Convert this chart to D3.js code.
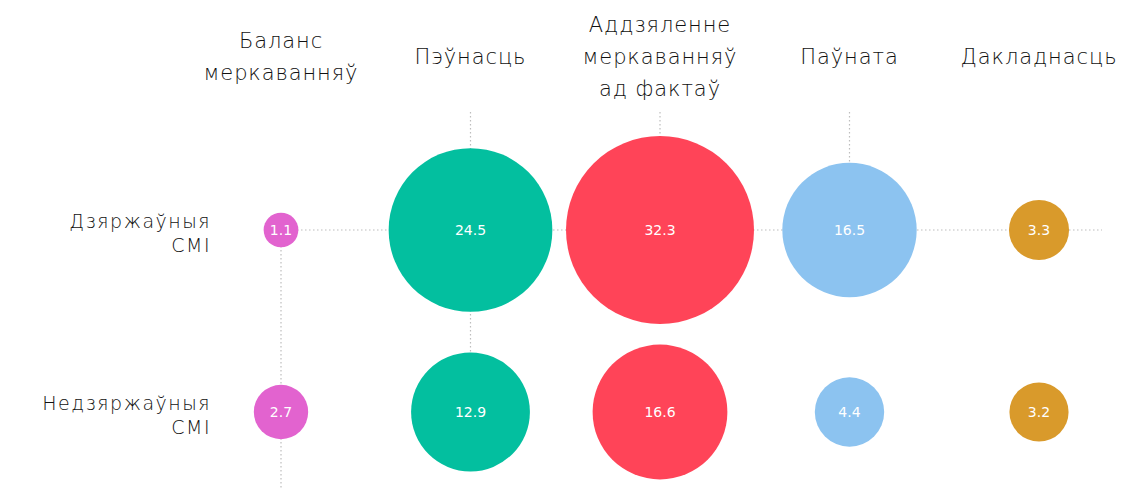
<!DOCTYPE html>
<html>
<head>
<meta charset="utf-8">
<script src="https://cdn.jsdelivr.net/npm/d3@7"></script>
<style>
  body { margin: 0; background: #fff; }
  text { font-family: "DejaVu Sans", sans-serif; }
</style>
</head>
<body>
<script>
// chart data
var columns = [
  ["Баланс", "меркаванняў"],
  ["Пэўнасць"],
  ["Аддзяленне", "меркаванняў", "ад фактаў"],
  ["Паўната"],
  ["Дакладнасць"]
];
var rows = [["Дзяржаўныя", "СМІ"], ["Недзяржаўныя", "СМІ"]];
var stateValues = [1.1, 24.5, 32.3, 16.5, 3.3];
var privateValues = [2.7, 12.9, 16.6, 4.4, 3.2];
var colors = ["#e263cf", "#03bf9f", "#ff4458", "#8cc3f0", "#d99a2b"];

var width = 1122, height = 491;

var svg = d3.select("body").append("svg")
    .attr("width", width)
    .attr("height", height);

// Set the ranges
var x = d3.scalePoint().domain(d3.range(columns.length)).range([281, 1039]);
var y = d3.scalePoint().domain(d3.range(rows.length)).range([230, 412]);
var r = d3.scaleSqrt().domain([0, 32.3]).range([0, 94]);

var cells = [];
stateValues.forEach(function(v, i) { cells.push({col: i, row: 0, value: v}); });
privateValues.forEach(function(v, i) { cells.push({col: i, row: 1, value: v}); });

// dotted guide lines
var grid = svg.append("g")
    .attr("stroke", "#bdbdbd")
    .attr("stroke-width", 1.2)
    .attr("stroke-dasharray", "1.5,2.5");

grid.append("line")
    .attr("x1", x(0)).attr("x2", 1102)
    .attr("y1", y(0)).attr("y2", y(0));

// verticals from the header down to the first row
grid.selectAll(".vtop")
    .data([1, 2, 3])
  .enter().append("line")
    .attr("x1", function(d) { return x(d); })
    .attr("x2", function(d) { return x(d); })
    .attr("y1", 112)
    .attr("y2", y(0));

// pink column goes down to the bottom, teal links its two rows
grid.append("line")
    .attr("x1", x(0)).attr("x2", x(0))
    .attr("y1", y(0)).attr("y2", 490);
grid.append("line")
    .attr("x1", x(1)).attr("x2", x(1))
    .attr("y1", y(0)).attr("y2", y(1));

// circles
svg.selectAll("circle")
    .data(cells)
  .enter().append("circle")
    .attr("cx", function(d) { return x(d.col); })
    .attr("cy", function(d) { return y(d.row); })
    .attr("r", function(d) { return r(d.value); })
    .attr("fill", function(d) { return colors[d.col]; });

svg.selectAll(".val")
    .data(cells)
  .enter().append("text")
    .attr("class", "val")
    .attr("x", function(d) { return x(d.col); })
    .attr("y", function(d) { return y(d.row); })
    .attr("dy", "0.35em")
    .attr("text-anchor", "middle")
    .attr("fill", "#fff")
    .attr("font-size", 14)
    .text(function(d) { return d.value.toFixed(1); });

// column headers
var lh = 32;
columns.forEach(function(lines, i) {
  lines.forEach(function(s, k) {
    svg.append("text")
        .attr("x", x(i))
        .attr("y", 57 + (k - (lines.length - 1) / 2) * lh)
        .attr("dy", "0.35em")
        .attr("text-anchor", "middle")
        .attr("font-size", 21)
        .attr("font-weight", 200)
        .attr("letter-spacing", 0.9)
        .attr("fill", "#111")
        .text(s);
  });
});

// row labels
rows.forEach(function(lines, j) {
  lines.forEach(function(s, k) {
    svg.append("text")
        .attr("x", 211)
        .attr("y", y(j) - 9 + k * 24)
        .attr("dy", "0.35em")
        .attr("text-anchor", "end")
        .attr("font-size", 19)
        .attr("font-weight", 200)
        .attr("letter-spacing", 1.5)
        .attr("fill", "#111")
        .text(s);
  });
});
</script>
</body>
</html>
